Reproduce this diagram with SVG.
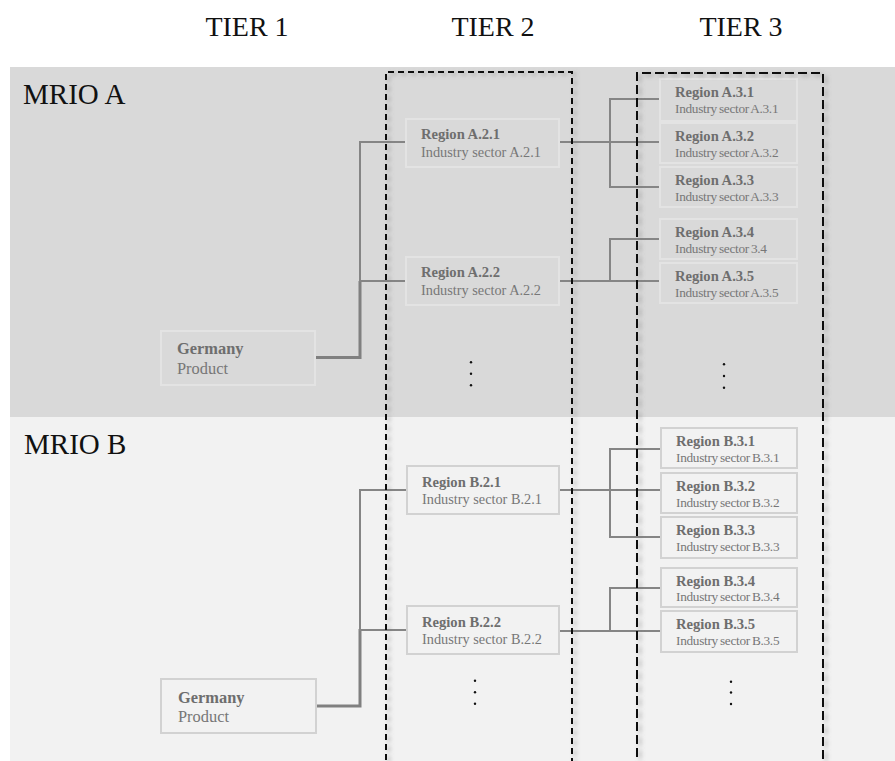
<svg xmlns="http://www.w3.org/2000/svg" width="895" height="761" viewBox="0 0 895 761" font-family="Liberation Serif, Times New Roman, serif">
  <defs>
    <filter id="dashShadow" x="-10%" y="-10%" width="130%" height="130%">
      <feDropShadow dx="3" dy="2" stdDeviation="2" flood-color="#707070" flood-opacity="0.55"/>
    </filter>
    <style>
      .head { font-size: 28px; fill: #111; }
      .mrio { font-size: 29px; fill: #111; }
      .reg { font-size: 14.6px; font-weight: bold; fill: #6e6e6e; }
      .sec { font-size: 14.3px; fill: #777; }
      .sec3 { font-size: 13.3px; letter-spacing: -0.3px; word-spacing: -1px; fill: #777; }
      .ger { font-size: 16.4px; font-weight: bold; fill: #6e6e6e; }
      .prod { font-size: 16.4px; fill: #777; }
      .boxA { fill: none; stroke: #e3e3e3; stroke-width: 2; }
      .boxB { fill: none; stroke: #d2d2d2; stroke-width: 2; }
      .link { fill: none; stroke: #858585; stroke-width: 2; }
      .trunk { fill: none; stroke: #808080; stroke-width: 3; }
      .dots { fill: #111; }
      .tier2 { fill: none; stroke: #111; stroke-width: 2; stroke-dasharray: 6 4; }
      .tier3 { fill: none; stroke: #111; stroke-width: 2; stroke-dasharray: 9 4; }
    </style>
  </defs>

  <!-- page background -->
  <rect x="0" y="0" width="895" height="761" fill="#ffffff"/>

  <!-- MRIO bands -->
  <g id="bands">
    <rect x="10" y="67" width="885" height="350" fill="#d9d9d9"/>
    <rect x="10" y="417" width="885" height="344" fill="#f2f2f2"/>
    <text class="mrio" x="23" y="104">MRIO A</text>
    <text class="mrio" x="24" y="454">MRIO B</text>
  </g>

  <!-- column headings -->
  <g id="headings">
    <text class="head" x="247" y="36" text-anchor="middle">TIER 1</text>
    <text class="head" x="493" y="36" text-anchor="middle">TIER 2</text>
    <text class="head" x="741" y="36" text-anchor="middle">TIER 3</text>
  </g>

  <!-- connectors -->
  <g id="connectors">
    <!-- MRIO A: tier 1 to tier 2 -->
    <polyline class="trunk" points="315,357.5 360,357.5 360,281"/>
    <polyline class="link" points="406,142 360,142 360,282"/>
    <line class="link" x1="360" y1="281" x2="406" y2="281"/>
    <!-- MRIO A: tier 2 to tier 3 -->
    <line class="link" x1="559" y1="142" x2="660" y2="142"/>
    <polyline class="link" points="660,99 610,99 610,187 660,187"/>
    <line class="link" x1="559" y1="281" x2="660" y2="281"/>
    <polyline class="link" points="660,239 610,239 610,281"/>

    <!-- MRIO B: tier 1 to tier 2 -->
    <polyline class="trunk" points="316,706 360,706 360,629"/>
    <polyline class="link" points="406,490 360,490 360,631"/>
    <line class="link" x1="360" y1="630" x2="407" y2="630"/>
    <!-- MRIO B: tier 2 to tier 3 -->
    <line class="link" x1="559" y1="490" x2="660" y2="490"/>
    <polyline class="link" points="660,449 610,449 610,537 660,537"/>
    <line class="link" x1="559" y1="631" x2="660" y2="631"/>
    <polyline class="link" points="660,588 610,588 610,632"/>
  </g>

  <!-- MRIO A nodes -->
  <g id="a-germany">
    <rect class="boxA" x="161" y="331" width="154" height="54"/>
    <text class="ger" x="177" y="354">Germany</text>
    <text class="prod" x="177" y="374">Product</text>
  </g>
  <g id="a-2-1">
    <rect class="boxA" x="406" y="119" width="153" height="48"/>
    <text class="reg" x="421" y="139">Region A.2.1</text>
    <text class="sec" x="421" y="157">Industry sector A.2.1</text>
  </g>
  <g id="a-2-2">
    <rect class="boxA" x="406" y="257" width="153" height="48"/>
    <text class="reg" x="421" y="277">Region A.2.2</text>
    <text class="sec" x="421" y="295">Industry sector A.2.2</text>
  </g>
  <g id="a-3-1">
    <rect class="boxA" x="660" y="79" width="137" height="42"/>
    <text class="reg" x="675" y="97">Region A.3.1</text>
    <text class="sec3" x="675" y="113">Industry sector A.3.1</text>
  </g>
  <g id="a-3-2">
    <rect class="boxA" x="660" y="123" width="137" height="40"/>
    <text class="reg" x="675" y="141">Region A.3.2</text>
    <text class="sec3" x="675" y="157">Industry sector A.3.2</text>
  </g>
  <g id="a-3-3">
    <rect class="boxA" x="660" y="167" width="137" height="40"/>
    <text class="reg" x="675" y="185">Region A.3.3</text>
    <text class="sec3" x="675" y="201">Industry sector A.3.3</text>
  </g>
  <g id="a-3-4">
    <rect class="boxA" x="660" y="219" width="137" height="40"/>
    <text class="reg" x="675" y="237">Region A.3.4</text>
    <text class="sec3" x="675" y="253">Industry sector 3.4</text>
  </g>
  <g id="a-3-5">
    <rect class="boxA" x="660" y="263" width="137" height="40"/>
    <text class="reg" x="675" y="281">Region A.3.5</text>
    <text class="sec3" x="675" y="297">Industry sector A.3.5</text>
  </g>
  <g id="a-more" class="dots">
    <circle cx="471" cy="362.3" r="1.2"/>
    <circle cx="471" cy="373.8" r="1.2"/>
    <circle cx="471" cy="385.3" r="1.2"/>
    <circle cx="724" cy="364.3" r="1.2"/>
    <circle cx="724" cy="376" r="1.2"/>
    <circle cx="724" cy="387.7" r="1.2"/>
  </g>

  <!-- MRIO B nodes -->
  <g id="b-germany">
    <rect class="boxB" x="161" y="679" width="155" height="54"/>
    <text class="ger" x="178" y="703">Germany</text>
    <text class="prod" x="178" y="722">Product</text>
  </g>
  <g id="b-2-1">
    <rect class="boxB" x="407" y="466" width="152" height="48"/>
    <text class="reg" x="422" y="487">Region B.2.1</text>
    <text class="sec" x="422" y="504">Industry sector B.2.1</text>
  </g>
  <g id="b-2-2">
    <rect class="boxB" x="407" y="606" width="152" height="48"/>
    <text class="reg" x="422" y="627">Region B.2.2</text>
    <text class="sec" x="422" y="644">Industry sector B.2.2</text>
  </g>
  <g id="b-3-1">
    <rect class="boxB" x="661" y="428" width="136" height="40"/>
    <text class="reg" x="676" y="446">Region B.3.1</text>
    <text class="sec3" x="676" y="462">Industry sector B.3.1</text>
  </g>
  <g id="b-3-2">
    <rect class="boxB" x="661" y="473" width="136" height="40"/>
    <text class="reg" x="676" y="491">Region B.3.2</text>
    <text class="sec3" x="676" y="507">Industry sector B.3.2</text>
  </g>
  <g id="b-3-3">
    <rect class="boxB" x="661" y="517" width="136" height="41"/>
    <text class="reg" x="676" y="535">Region B.3.3</text>
    <text class="sec3" x="676" y="551">Industry sector B.3.3</text>
  </g>
  <g id="b-3-4">
    <rect class="boxB" x="661" y="568" width="136" height="39"/>
    <text class="reg" x="676" y="586">Region B.3.4</text>
    <text class="sec3" x="676" y="601">Industry sector B.3.4</text>
  </g>
  <g id="b-3-5">
    <rect class="boxB" x="661" y="611" width="136" height="41"/>
    <text class="reg" x="676" y="629">Region B.3.5</text>
    <text class="sec3" x="676" y="645">Industry sector B.3.5</text>
  </g>
  <g id="b-more" class="dots">
    <circle cx="475" cy="680.7" r="1.2"/>
    <circle cx="475" cy="692.2" r="1.2"/>
    <circle cx="475" cy="703.7" r="1.2"/>
    <circle cx="731" cy="681.7" r="1.2"/>
    <circle cx="731" cy="692.5" r="1.2"/>
    <circle cx="731" cy="704" r="1.2"/>
  </g>

  <!-- tier 2 and tier 3 frames, open at the bottom -->
  <g id="tier-frames" filter="url(#dashShadow)">
    <polyline class="tier2" points="386,770 386,72 572,72 572,770"/>
    <polyline class="tier3" points="637,770 637,73 823,73 823,770"/>
  </g>
</svg>
